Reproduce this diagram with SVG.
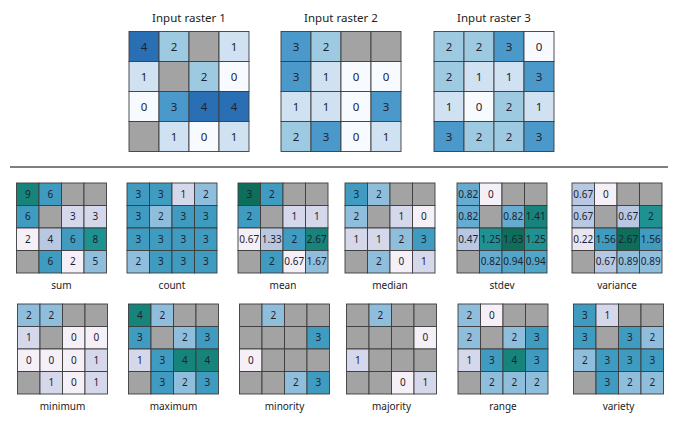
<svg xmlns="http://www.w3.org/2000/svg" xmlns:xlink="http://www.w3.org/1999/xlink" width="680" height="426" viewBox="0 0 680 426">
<style>
text{font-family:"Noto Sans","Open Sans","DejaVu Sans",sans-serif;fill:#1e2230;text-anchor:middle}
.title{font-size:11.5px;fill:#222}
.lab{font-size:11.5px;fill:#222}
.big text{font-size:11.5px}
.sm text{font-size:10px}
use{stroke:#3c3c3c;stroke-width:0.9}
.n{fill:#a3a3a3}
.b0{fill:#f7fbff}.b1{fill:#d0e1f2}.b2{fill:#9ecae1}.b3{fill:#4b98ca}.b4{fill:#2a6fb4}
.w{fill:#f5f0f7}.v{fill:#e9e5f1}.l1{fill:#d5d8eb}.l2{fill:#b8c8e2}.c1{fill:#8fbedc}.c2{fill:#66acd0}
.t0{fill:#51a5c9}.t1{fill:#3f9bbf}.t2{fill:#1f9190}.t3{fill:#17847c}.t4{fill:#0d6e5c}
</style>
<defs>
<rect id="L" width="30" height="30"/>
<rect id="s" width="22.5" height="22.5"/>
</defs>
<line x1="10" y1="167" x2="668" y2="167" stroke="#555" stroke-width="1.4"/>
<g id="connectors"/>

<g id="input1" class="big" transform="translate(129,31.5)">
<text class="title" x="60" y="-10">Input raster 1</text>
<use href="#L" x="0" y="0" class="b4"/><use href="#L" x="30" y="0" class="b2"/><use href="#L" x="60" y="0" class="n"/><use href="#L" x="90" y="0" class="b1"/>
<use href="#L" x="0" y="30" class="b1"/><use href="#L" x="30" y="30" class="n"/><use href="#L" x="60" y="30" class="b2"/><use href="#L" x="90" y="30" class="b0"/>
<use href="#L" x="0" y="60" class="b0"/><use href="#L" x="30" y="60" class="b3"/><use href="#L" x="60" y="60" class="b4"/><use href="#L" x="90" y="60" class="b4"/>
<use href="#L" x="0" y="90" class="n"/><use href="#L" x="30" y="90" class="b1"/><use href="#L" x="60" y="90" class="b0"/><use href="#L" x="90" y="90" class="b1"/>
<text x="15" y="19">4</text><text x="45" y="19">2</text><text x="105" y="19">1</text>
<text x="15" y="49">1</text><text x="75" y="49">2</text><text x="105" y="49">0</text>
<text x="15" y="79">0</text><text x="45" y="79">3</text><text x="75" y="79">4</text><text x="105" y="79">4</text>
<text x="45" y="109">1</text><text x="75" y="109">0</text><text x="105" y="109">1</text>
</g>

<g id="input2" class="big" transform="translate(281,31.5)">
<text class="title" x="60" y="-10">Input raster 2</text>
<use href="#L" x="0" y="0" class="b3"/><use href="#L" x="30" y="0" class="b2"/><use href="#L" x="60" y="0" class="n"/><use href="#L" x="90" y="0" class="n"/>
<use href="#L" x="0" y="30" class="b3"/><use href="#L" x="30" y="30" class="b1"/><use href="#L" x="60" y="30" class="b0"/><use href="#L" x="90" y="30" class="b0"/>
<use href="#L" x="0" y="60" class="b1"/><use href="#L" x="30" y="60" class="b1"/><use href="#L" x="60" y="60" class="b0"/><use href="#L" x="90" y="60" class="b3"/>
<use href="#L" x="0" y="90" class="b2"/><use href="#L" x="30" y="90" class="b3"/><use href="#L" x="60" y="90" class="b0"/><use href="#L" x="90" y="90" class="b1"/>
<text x="15" y="19">3</text><text x="45" y="19">2</text>
<text x="15" y="49">3</text><text x="45" y="49">1</text><text x="75" y="49">0</text><text x="105" y="49">0</text>
<text x="15" y="79">1</text><text x="45" y="79">1</text><text x="75" y="79">0</text><text x="105" y="79">3</text>
<text x="15" y="109">2</text><text x="45" y="109">3</text><text x="75" y="109">0</text><text x="105" y="109">1</text>
</g>

<g id="input3" class="big" transform="translate(434,31.5)">
<text class="title" x="60" y="-10">Input raster 3</text>
<use href="#L" x="0" y="0" class="b2"/><use href="#L" x="30" y="0" class="b2"/><use href="#L" x="60" y="0" class="b3"/><use href="#L" x="90" y="0" class="b0"/>
<use href="#L" x="0" y="30" class="b2"/><use href="#L" x="30" y="30" class="b1"/><use href="#L" x="60" y="30" class="b1"/><use href="#L" x="90" y="30" class="b3"/>
<use href="#L" x="0" y="60" class="b1"/><use href="#L" x="30" y="60" class="b0"/><use href="#L" x="60" y="60" class="b2"/><use href="#L" x="90" y="60" class="b1"/>
<use href="#L" x="0" y="90" class="b3"/><use href="#L" x="30" y="90" class="b2"/><use href="#L" x="60" y="90" class="b2"/><use href="#L" x="90" y="90" class="b3"/>
<text x="15" y="19">2</text><text x="45" y="19">2</text><text x="75" y="19">3</text><text x="105" y="19">0</text>
<text x="15" y="49">2</text><text x="45" y="49">1</text><text x="75" y="49">1</text><text x="105" y="49">3</text>
<text x="15" y="79">1</text><text x="45" y="79">0</text><text x="75" y="79">2</text><text x="105" y="79">1</text>
<text x="15" y="109">3</text><text x="45" y="109">2</text><text x="75" y="109">2</text><text x="105" y="109">3</text>
</g>

<g id="sum" class="sm" transform="translate(16.5,183)">
<use href="#s" x="0" y="0" class="t3"/><use href="#s" x="22.5" y="0" class="t1"/><use href="#s" x="45" y="0" class="n"/><use href="#s" x="67.5" y="0" class="n"/>
<use href="#s" x="0" y="22.5" class="t1"/><use href="#s" x="22.5" y="22.5" class="n"/><use href="#s" x="45" y="22.5" class="l1"/><use href="#s" x="67.5" y="22.5" class="l1"/>
<use href="#s" x="0" y="45" class="w"/><use href="#s" x="22.5" y="45" class="l2"/><use href="#s" x="45" y="45" class="t1"/><use href="#s" x="67.5" y="45" class="t2"/>
<use href="#s" x="0" y="67.5" class="n"/><use href="#s" x="22.5" y="67.5" class="t1"/><use href="#s" x="45" y="67.5" class="w"/><use href="#s" x="67.5" y="67.5" class="c1"/>
<text x="11.25" y="14.8">9</text><text x="33.75" y="14.8">6</text>
<text x="11.25" y="37.3">6</text><text x="56.25" y="37.3">3</text><text x="78.75" y="37.3">3</text>
<text x="11.25" y="59.8">2</text><text x="33.75" y="59.8">4</text><text x="56.25" y="59.8">6</text><text x="78.75" y="59.8">8</text>
<text x="33.75" y="82.3">6</text><text x="56.25" y="82.3">2</text><text x="78.75" y="82.3">5</text>
<text class="lab" x="45" y="105.5">sum</text>
</g>

<g id="count" class="sm" transform="translate(127,183)">
<use href="#s" x="0" y="0" class="t1"/><use href="#s" x="22.5" y="0" class="t1"/><use href="#s" x="45" y="0" class="l1"/><use href="#s" x="67.5" y="0" class="c1"/>
<use href="#s" x="0" y="22.5" class="t1"/><use href="#s" x="22.5" y="22.5" class="c1"/><use href="#s" x="45" y="22.5" class="t1"/><use href="#s" x="67.5" y="22.5" class="t1"/>
<use href="#s" x="0" y="45" class="t1"/><use href="#s" x="22.5" y="45" class="t1"/><use href="#s" x="45" y="45" class="t1"/><use href="#s" x="67.5" y="45" class="t1"/>
<use href="#s" x="0" y="67.5" class="c1"/><use href="#s" x="22.5" y="67.5" class="t1"/><use href="#s" x="45" y="67.5" class="t1"/><use href="#s" x="67.5" y="67.5" class="t1"/>
<text x="11.25" y="14.8">3</text><text x="33.75" y="14.8">3</text><text x="56.25" y="14.8">1</text><text x="78.75" y="14.8">2</text>
<text x="11.25" y="37.3">3</text><text x="33.75" y="37.3">2</text><text x="56.25" y="37.3">3</text><text x="78.75" y="37.3">3</text>
<text x="11.25" y="59.8">3</text><text x="33.75" y="59.8">3</text><text x="56.25" y="59.8">3</text><text x="78.75" y="59.8">3</text>
<text x="11.25" y="82.3">2</text><text x="33.75" y="82.3">3</text><text x="56.25" y="82.3">3</text><text x="78.75" y="82.3">3</text>
<text class="lab" x="45" y="105.5">count</text>
</g>

<g id="mean" class="sm" transform="translate(238,183)">
<use href="#s" x="0" y="0" class="t4"/><use href="#s" x="22.5" y="0" class="t1"/><use href="#s" x="45" y="0" class="n"/><use href="#s" x="67.5" y="0" class="n"/>
<use href="#s" x="0" y="22.5" class="t1"/><use href="#s" x="22.5" y="22.5" class="n"/><use href="#s" x="45" y="22.5" class="l1"/><use href="#s" x="67.5" y="22.5" class="l1"/>
<use href="#s" x="0" y="45" class="w"/><use href="#s" x="22.5" y="45" class="l2"/><use href="#s" x="45" y="45" class="t1"/><use href="#s" x="67.5" y="45" class="t3"/>
<use href="#s" x="0" y="67.5" class="n"/><use href="#s" x="22.5" y="67.5" class="t1"/><use href="#s" x="45" y="67.5" class="w"/><use href="#s" x="67.5" y="67.5" class="c1"/>
<text x="11.25" y="14.8">3</text><text x="33.75" y="14.8">2</text>
<text x="11.25" y="37.3">2</text><text x="56.25" y="37.3">1</text><text x="78.75" y="37.3">1</text>
<text x="11.25" y="59.8">0.67</text><text x="33.75" y="59.8">1.33</text><text x="56.25" y="59.8">2</text><text x="78.75" y="59.8">2.67</text>
<text x="33.75" y="82.3">2</text><text x="56.25" y="82.3">0.67</text><text x="78.75" y="82.3">1.67</text>
<text class="lab" x="45" y="105.5">mean</text>
</g>

<g id="median" class="sm" transform="translate(345,183)">
<use href="#s" x="0" y="0" class="t1"/><use href="#s" x="22.5" y="0" class="c1"/><use href="#s" x="45" y="0" class="n"/><use href="#s" x="67.5" y="0" class="n"/>
<use href="#s" x="0" y="22.5" class="c1"/><use href="#s" x="22.5" y="22.5" class="n"/><use href="#s" x="45" y="22.5" class="l1"/><use href="#s" x="67.5" y="22.5" class="w"/>
<use href="#s" x="0" y="45" class="l1"/><use href="#s" x="22.5" y="45" class="l1"/><use href="#s" x="45" y="45" class="c1"/><use href="#s" x="67.5" y="45" class="t1"/>
<use href="#s" x="0" y="67.5" class="n"/><use href="#s" x="22.5" y="67.5" class="c1"/><use href="#s" x="45" y="67.5" class="w"/><use href="#s" x="67.5" y="67.5" class="l1"/>
<text x="11.25" y="14.8">3</text><text x="33.75" y="14.8">2</text>
<text x="11.25" y="37.3">2</text><text x="56.25" y="37.3">1</text><text x="78.75" y="37.3">0</text>
<text x="11.25" y="59.8">1</text><text x="33.75" y="59.8">1</text><text x="56.25" y="59.8">2</text><text x="78.75" y="59.8">3</text>
<text x="33.75" y="82.3">2</text><text x="56.25" y="82.3">0</text><text x="78.75" y="82.3">1</text>
<text class="lab" x="45" y="105.5">median</text>
</g>

<g id="stdev" class="sm" transform="translate(457,183)">
<use href="#s" x="0" y="0" class="c2"/><use href="#s" x="22.5" y="0" class="w"/><use href="#s" x="45" y="0" class="n"/><use href="#s" x="67.5" y="0" class="n"/>
<use href="#s" x="0" y="22.5" class="c2"/><use href="#s" x="22.5" y="22.5" class="n"/><use href="#s" x="45" y="22.5" class="c2"/><use href="#s" x="67.5" y="22.5" class="t3"/>
<use href="#s" x="0" y="45" class="l2"/><use href="#s" x="22.5" y="45" class="t2"/><use href="#s" x="45" y="45" class="t4"/><use href="#s" x="67.5" y="45" class="t2"/>
<use href="#s" x="0" y="67.5" class="n"/><use href="#s" x="22.5" y="67.5" class="c2"/><use href="#s" x="45" y="67.5" class="t0"/><use href="#s" x="67.5" y="67.5" class="t0"/>
<text x="11.25" y="14.8">0.82</text><text x="33.75" y="14.8">0</text>
<text x="11.25" y="37.3">0.82</text><text x="56.25" y="37.3">0.82</text><text x="78.75" y="37.3">1.41</text>
<text x="11.25" y="59.8">0.47</text><text x="33.75" y="59.8">1.25</text><text x="56.25" y="59.8">1.63</text><text x="78.75" y="59.8">1.25</text>
<text x="33.75" y="82.3">0.82</text><text x="56.25" y="82.3">0.94</text><text x="78.75" y="82.3">0.94</text>
<text class="lab" x="45" y="105.5">stdev</text>
</g>

<g id="variance" class="sm" transform="translate(572,183)">
<use href="#s" x="0" y="0" class="l2"/><use href="#s" x="22.5" y="0" class="w"/><use href="#s" x="45" y="0" class="n"/><use href="#s" x="67.5" y="0" class="n"/>
<use href="#s" x="0" y="22.5" class="l2"/><use href="#s" x="22.5" y="22.5" class="n"/><use href="#s" x="45" y="22.5" class="l2"/><use href="#s" x="67.5" y="22.5" class="t2"/>
<use href="#s" x="0" y="45" class="v"/><use href="#s" x="22.5" y="45" class="t1"/><use href="#s" x="45" y="45" class="t4"/><use href="#s" x="67.5" y="45" class="t1"/>
<use href="#s" x="0" y="67.5" class="n"/><use href="#s" x="22.5" y="67.5" class="l2"/><use href="#s" x="45" y="67.5" class="c1"/><use href="#s" x="67.5" y="67.5" class="c1"/>
<text x="11.25" y="14.8">0.67</text><text x="33.75" y="14.8">0</text>
<text x="11.25" y="37.3">0.67</text><text x="56.25" y="37.3">0.67</text><text x="78.75" y="37.3">2</text>
<text x="11.25" y="59.8">0.22</text><text x="33.75" y="59.8">1.56</text><text x="56.25" y="59.8">2.67</text><text x="78.75" y="59.8">1.56</text>
<text x="33.75" y="82.3">0.67</text><text x="56.25" y="82.3">0.89</text><text x="78.75" y="82.3">0.89</text>
<text class="lab" x="45" y="105.5">variance</text>
</g>

<g id="minimum" class="sm" transform="translate(17.5,304)">
<use href="#s" x="0" y="0" class="c1"/><use href="#s" x="22.5" y="0" class="c1"/><use href="#s" x="45" y="0" class="n"/><use href="#s" x="67.5" y="0" class="n"/>
<use href="#s" x="0" y="22.5" class="l1"/><use href="#s" x="22.5" y="22.5" class="n"/><use href="#s" x="45" y="22.5" class="w"/><use href="#s" x="67.5" y="22.5" class="w"/>
<use href="#s" x="0" y="45" class="w"/><use href="#s" x="22.5" y="45" class="w"/><use href="#s" x="45" y="45" class="w"/><use href="#s" x="67.5" y="45" class="l1"/>
<use href="#s" x="0" y="67.5" class="n"/><use href="#s" x="22.5" y="67.5" class="l1"/><use href="#s" x="45" y="67.5" class="w"/><use href="#s" x="67.5" y="67.5" class="l1"/>
<text x="11.25" y="14.8">2</text><text x="33.75" y="14.8">2</text>
<text x="11.25" y="37.3">1</text><text x="56.25" y="37.3">0</text><text x="78.75" y="37.3">0</text>
<text x="11.25" y="59.8">0</text><text x="33.75" y="59.8">0</text><text x="56.25" y="59.8">0</text><text x="78.75" y="59.8">1</text>
<text x="33.75" y="82.3">1</text><text x="56.25" y="82.3">0</text><text x="78.75" y="82.3">1</text>
<text class="lab" x="45" y="106">minimum</text>
</g>

<g id="maximum" class="sm" transform="translate(128.5,304)">
<use href="#s" x="0" y="0" class="t3"/><use href="#s" x="22.5" y="0" class="c1"/><use href="#s" x="45" y="0" class="n"/><use href="#s" x="67.5" y="0" class="n"/>
<use href="#s" x="0" y="22.5" class="t1"/><use href="#s" x="22.5" y="22.5" class="n"/><use href="#s" x="45" y="22.5" class="c1"/><use href="#s" x="67.5" y="22.5" class="t1"/>
<use href="#s" x="0" y="45" class="l1"/><use href="#s" x="22.5" y="45" class="t1"/><use href="#s" x="45" y="45" class="t3"/><use href="#s" x="67.5" y="45" class="t3"/>
<use href="#s" x="0" y="67.5" class="n"/><use href="#s" x="22.5" y="67.5" class="t1"/><use href="#s" x="45" y="67.5" class="c1"/><use href="#s" x="67.5" y="67.5" class="t1"/>
<text x="11.25" y="14.8">4</text><text x="33.75" y="14.8">2</text>
<text x="11.25" y="37.3">3</text><text x="56.25" y="37.3">2</text><text x="78.75" y="37.3">3</text>
<text x="11.25" y="59.8">1</text><text x="33.75" y="59.8">3</text><text x="56.25" y="59.8">4</text><text x="78.75" y="59.8">4</text>
<text x="33.75" y="82.3">3</text><text x="56.25" y="82.3">2</text><text x="78.75" y="82.3">3</text>
<text class="lab" x="45" y="106">maximum</text>
</g>

<g id="minority" class="sm" transform="translate(239.5,304)">
<use href="#s" x="0" y="0" class="n"/><use href="#s" x="22.5" y="0" class="c1"/><use href="#s" x="45" y="0" class="n"/><use href="#s" x="67.5" y="0" class="n"/>
<use href="#s" x="0" y="22.5" class="n"/><use href="#s" x="22.5" y="22.5" class="n"/><use href="#s" x="45" y="22.5" class="n"/><use href="#s" x="67.5" y="22.5" class="t1"/>
<use href="#s" x="0" y="45" class="w"/><use href="#s" x="22.5" y="45" class="n"/><use href="#s" x="45" y="45" class="n"/><use href="#s" x="67.5" y="45" class="n"/>
<use href="#s" x="0" y="67.5" class="n"/><use href="#s" x="22.5" y="67.5" class="n"/><use href="#s" x="45" y="67.5" class="c1"/><use href="#s" x="67.5" y="67.5" class="t1"/>
<text x="33.75" y="14.8">2</text>
<text x="78.75" y="37.3">3</text>
<text x="11.25" y="59.8">0</text>
<text x="56.25" y="82.3">2</text><text x="78.75" y="82.3">3</text>
<text class="lab" x="45" y="106">minority</text>
</g>

<g id="majority" class="sm" transform="translate(346.5,304)">
<use href="#s" x="0" y="0" class="n"/><use href="#s" x="22.5" y="0" class="c1"/><use href="#s" x="45" y="0" class="n"/><use href="#s" x="67.5" y="0" class="n"/>
<use href="#s" x="0" y="22.5" class="n"/><use href="#s" x="22.5" y="22.5" class="n"/><use href="#s" x="45" y="22.5" class="n"/><use href="#s" x="67.5" y="22.5" class="w"/>
<use href="#s" x="0" y="45" class="l1"/><use href="#s" x="22.5" y="45" class="n"/><use href="#s" x="45" y="45" class="n"/><use href="#s" x="67.5" y="45" class="n"/>
<use href="#s" x="0" y="67.5" class="n"/><use href="#s" x="22.5" y="67.5" class="n"/><use href="#s" x="45" y="67.5" class="w"/><use href="#s" x="67.5" y="67.5" class="l1"/>
<text x="33.75" y="14.8">2</text>
<text x="78.75" y="37.3">0</text>
<text x="11.25" y="59.8">1</text>
<text x="56.25" y="82.3">0</text><text x="78.75" y="82.3">1</text>
<text class="lab" x="45" y="106">majority</text>
</g>

<g id="range" class="sm" transform="translate(458,304)">
<use href="#s" x="0" y="0" class="c1"/><use href="#s" x="22.5" y="0" class="w"/><use href="#s" x="45" y="0" class="n"/><use href="#s" x="67.5" y="0" class="n"/>
<use href="#s" x="0" y="22.5" class="c1"/><use href="#s" x="22.5" y="22.5" class="n"/><use href="#s" x="45" y="22.5" class="c1"/><use href="#s" x="67.5" y="22.5" class="t1"/>
<use href="#s" x="0" y="45" class="l1"/><use href="#s" x="22.5" y="45" class="t1"/><use href="#s" x="45" y="45" class="t3"/><use href="#s" x="67.5" y="45" class="t1"/>
<use href="#s" x="0" y="67.5" class="n"/><use href="#s" x="22.5" y="67.5" class="c1"/><use href="#s" x="45" y="67.5" class="c1"/><use href="#s" x="67.5" y="67.5" class="c1"/>
<text x="11.25" y="14.8">2</text><text x="33.75" y="14.8">0</text>
<text x="11.25" y="37.3">2</text><text x="56.25" y="37.3">2</text><text x="78.75" y="37.3">3</text>
<text x="11.25" y="59.8">1</text><text x="33.75" y="59.8">3</text><text x="56.25" y="59.8">4</text><text x="78.75" y="59.8">3</text>
<text x="33.75" y="82.3">2</text><text x="56.25" y="82.3">2</text><text x="78.75" y="82.3">2</text>
<text class="lab" x="45" y="106">range</text>
</g>

<g id="variety" class="sm" transform="translate(573.5,304)">
<use href="#s" x="0" y="0" class="t1"/><use href="#s" x="22.5" y="0" class="l1"/><use href="#s" x="45" y="0" class="n"/><use href="#s" x="67.5" y="0" class="n"/>
<use href="#s" x="0" y="22.5" class="t1"/><use href="#s" x="22.5" y="22.5" class="n"/><use href="#s" x="45" y="22.5" class="t1"/><use href="#s" x="67.5" y="22.5" class="c1"/>
<use href="#s" x="0" y="45" class="c1"/><use href="#s" x="22.5" y="45" class="t1"/><use href="#s" x="45" y="45" class="t1"/><use href="#s" x="67.5" y="45" class="t1"/>
<use href="#s" x="0" y="67.5" class="n"/><use href="#s" x="22.5" y="67.5" class="t1"/><use href="#s" x="45" y="67.5" class="c1"/><use href="#s" x="67.5" y="67.5" class="c1"/>
<text x="11.25" y="14.8">3</text><text x="33.75" y="14.8">1</text>
<text x="11.25" y="37.3">3</text><text x="56.25" y="37.3">3</text><text x="78.75" y="37.3">2</text>
<text x="11.25" y="59.8">2</text><text x="33.75" y="59.8">3</text><text x="56.25" y="59.8">3</text><text x="78.75" y="59.8">3</text>
<text x="33.75" y="82.3">3</text><text x="56.25" y="82.3">2</text><text x="78.75" y="82.3">2</text>
<text class="lab" x="45" y="106">variety</text>
</g>
</svg>
